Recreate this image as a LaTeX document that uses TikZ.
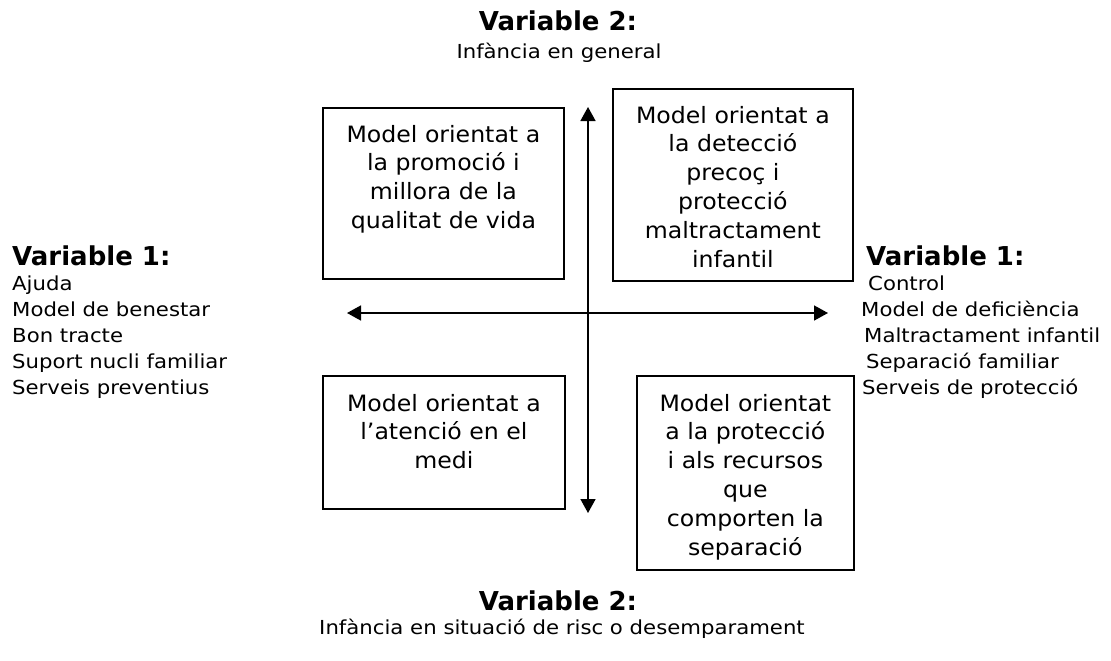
\documentclass[tikz,border=0pt]{standalone}
\usepackage{fontspec}
\setmainfont{DejaVu Sans}
\newfontfamily\boxfont[FakeStretch=1.05]{DejaVu Sans}
\newfontfamily\listfont[FakeStretch=1.1]{DejaVu Sans}
\usetikzlibrary{arrows.meta}

\begin{document}
\begin{tikzpicture}[x=1pt,y=-1pt,
  quad/.style={draw=black, line width=1.8pt, rectangle, inner sep=0pt, anchor=north west},
  quadtext/.style={font=\boxfont\fontsize{22.5}{28.8}\selectfont, align=center, inner sep=0pt, anchor=base},
  heading/.style={font=\bfseries\fontsize{26}{30}\selectfont, inner sep=0pt},
  subtext/.style={font=\listfont\fontsize{19.3}{26}\selectfont, inner sep=0pt},
  axis/.style={line width=1.6pt, {Triangle[length=14pt,width=15pt]}-{Triangle[length=14pt,width=15pt]}}
]
\useasboundingbox (0,0) rectangle (1111,661);

% top and bottom headings (variable 2)
\node[heading, anchor=base] (v2top) at (558,31) {Variable 2:};
\node[subtext, anchor=base] (v2topsub) at (559,59) {Infància en general};
\node[heading, anchor=base] (v2bot) at (558,610) {Variable 2:};
\node[subtext, anchor=base] (v2botsub) at (562,634) {Infància en situació de risc o desemparament};

% left side (variable 1)
\node[heading, anchor=base west] (v1left) at (12,265) {Variable 1:};
\node[subtext, anchor=base west] (l1) at (12,290) {Ajuda};
\node[subtext, anchor=base west] (l2) at (12,316) {Model de benestar};
\node[subtext, anchor=base west] (l3) at (12,342) {Bon tracte};
\node[subtext, anchor=base west] (l4) at (12,368) {Suport nucli familiar};
\node[subtext, anchor=base west] (l5) at (12,394) {Serveis preventius};

% right side (variable 1)
\node[heading, anchor=base west] (v1right) at (866,265) {Variable 1:};
\node[subtext, anchor=base west] (r1) at (868,290) {Control};
\node[subtext, anchor=base west] (r2) at (861,316) {Model de deficiència};
\node[subtext, anchor=base west] (r3) at (864,342) {Maltractament infantil};
\node[subtext, anchor=base west] (r4) at (866,368) {Separació familiar};
\node[subtext, anchor=base west] (r5) at (862,394) {Serveis de protecció};

% the four quadrant boxes
\node[quad, minimum width=241pt, minimum height=171pt] (q1) at (322,107) {};
\node[quad, minimum width=240pt, minimum height=192pt] (q2) at (612,88) {};
\node[quad, minimum width=242pt, minimum height=133pt] (q3) at (322,375) {};
\node[quad, minimum width=217pt, minimum height=194pt] (q4) at (636,375) {};

% box texts: the base anchor sits on the last line, 28.8pt per line
\node[quadtext] (t1) at ([yshift=-121.4pt]q1.north) {Model orientat a\\la promoció i\\millora de la\\qualitat de vida};
\node[quadtext] (t2) at ([yshift=-179pt]q2.north) {Model orientat a\\la detecció\\precoç i\\protecció\\maltractament\\infantil};
\node[quadtext] (t3) at ([yshift=-93.6pt]q3.north) {Model orientat a\\l’atenció en el\\medi};
\node[quadtext] (t4) at ([yshift=-180pt]q4.north) {Model orientat\\a la protecció\\i als recursos\\que\\comporten la\\separació};

% axes
\coordinate (ytop) at (588,107);
\coordinate (ybot) at (588,513);
\coordinate (xleft) at (347,313);
\coordinate (xright) at (828,313);
\draw[axis] (ybot) -- (ytop);
\draw[axis] (xleft) -- (xright);
\end{tikzpicture}
\end{document}
